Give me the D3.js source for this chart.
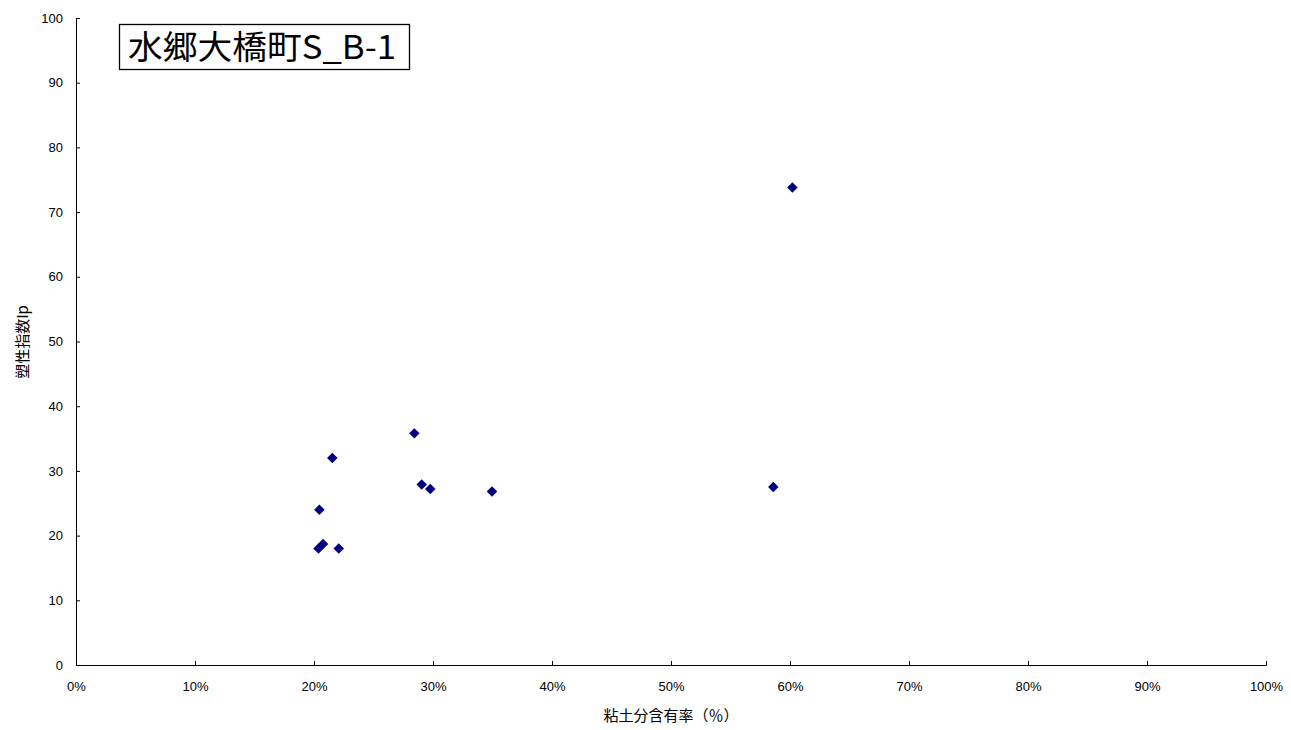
<!DOCTYPE html>
<html>
<head>
<meta charset="utf-8">
<script src="https://cdn.jsdelivr.net/npm/d3@7"></script>
<style>
  body { margin: 0; background: #fff; }
  svg { display: block; font-family: "Noto Sans CJK JP", "Liberation Sans", sans-serif; }
</style>
</head>
<body>
<div id="chart"></div>
<script>
const chartTitle = "水郷大橋町S_B-1";
const xLabel = "粘土分含有率（％）";
const yLabel = "塑性指数Ip";

// clay content (fraction) vs plasticity index
const clayContent = [0.2038, 0.2076, 0.2208, 0.2045, 0.2154, 0.2843, 0.2905, 0.2977, 0.3496, 0.586, 0.602];
const plasticity  = [18.0,   18.7,   18.0,   24.0,   32.0,   35.8,   27.9,   27.2,   26.8,   27.5,  73.8];

const xTicks = d3.range(0, 1.01, 0.1);
const yTicks = d3.range(0, 101, 10);

const W = 1291, H = 730;
const margin = { top: 18, right: 25, bottom: 65, left: 76 };
const width = W - margin.left - margin.right,
      height = H - margin.top - margin.bottom;

const svg = d3.select("#chart").append("svg")
  .attr("width", W)
  .attr("height", H);

const g = svg.append("g")
  .attr("transform", `translate(${margin.left},${margin.top})`);

const x = d3.scaleLinear().domain([0, 1]).range([0, width]);
const y = d3.scaleLinear().domain([0, 100]).range([height, 0]);

// axes (ticks point inward like the original)
const xAxis = g.append("g")
  .attr("transform", `translate(0,${height})`)
  .call(d3.axisBottom(x).tickValues(xTicks).tickSizeInner(-4).tickSizeOuter(-4).tickPadding(14)
    .tickFormat(d => Math.round(d * 100) + "%"));

const yAxis = g.append("g")
  .call(d3.axisLeft(y).tickValues(yTicks).tickSizeInner(-4).tickSizeOuter(-4).tickPadding(13));

[xAxis, yAxis].forEach(a => {
  a.select(".domain").attr("stroke", "#000");
  a.selectAll(".tick line").attr("stroke", "#000");
  a.selectAll(".tick text")
    .attr("fill", "#000")
    .style("font-size", "13px")
    .style("font-family", "'Liberation Sans', Arial, sans-serif");
});
xAxis.selectAll(".tick text").attr("dy", "0.9em");

// points
const pts = clayContent.map((c, i) => ({ c, p: plasticity[i] }));
g.selectAll(".pt")
  .data(pts)
  .enter()
  .append("path")
  .attr("class", "pt")
  .attr("d", d3.symbol(d3.symbolDiamond2, 70))
  .attr("transform", d => `translate(${x(d.c)},${y(d.p)})`)
  .attr("fill", "#000080");

// axis titles
svg.append("text")
  .attr("x", margin.left + width / 2)
  .attr("y", 721)
  .attr("text-anchor", "middle")
  .style("font-size", "15px")
  .text(xLabel);

svg.append("text")
  .attr("transform", `translate(28,${margin.top + 324}) rotate(-90)`)
  .attr("text-anchor", "middle")
  .style("font-size", "15px")
  .text(yLabel);

// title box
const tb = svg.append("g");
tb.append("rect")
  .attr("x", 119.5)
  .attr("y", 24.5)
  .attr("width", 290)
  .attr("height", 45)
  .attr("fill", "#fff")
  .attr("stroke", "#000")
  .attr("stroke-width", 1.3);
tb.append("text")
  .attr("x", 128)
  .attr("y", 59)
  .attr("textLength", 268)
  .attr("lengthAdjust", "spacingAndGlyphs")
  .style("font-size", "33px")
  .text(chartTitle);
</script>
</body>
</html>
